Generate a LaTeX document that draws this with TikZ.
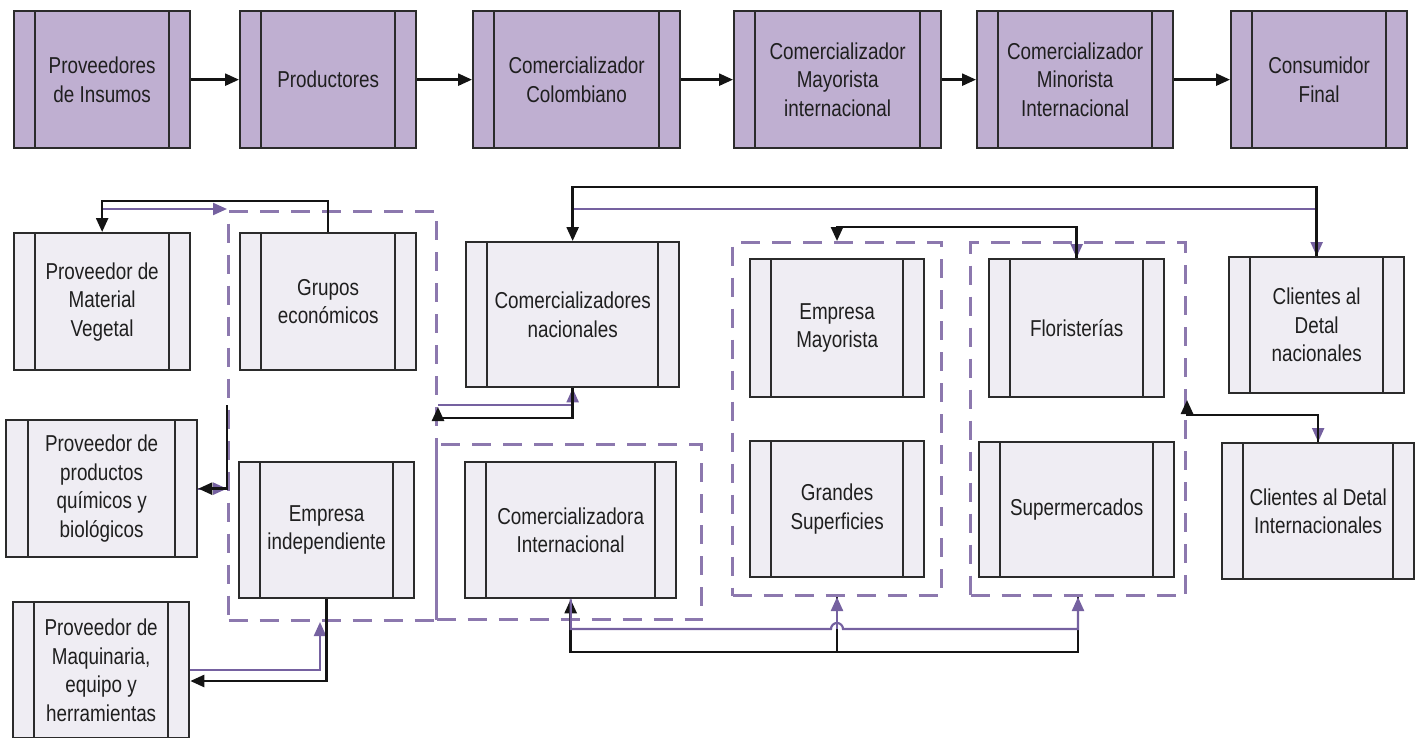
\documentclass[tikz,border=0pt]{standalone}
\usepackage{fontspec}
\setmainfont{Liberation Sans}[FakeStretch=0.82]
\usetikzlibrary{arrows.meta}
\definecolor{topfill}{HTML}{BFAFD1}
\definecolor{lowfill}{HTML}{EFEDF3}
\definecolor{boxline}{HTML}{2B2B2B}
\definecolor{txt}{HTML}{1F1F1F}
\definecolor{purp}{HTML}{7561A0}
\definecolor{dashc}{HTML}{8C78AE}
\begin{document}
\begin{tikzpicture}[x=1pt,y=-1pt,
  base/.style={draw=boxline, line width=2.3pt, inner sep=0pt, align=center,
    text=txt, font=\fontsize{23}{28.5}\selectfont, anchor=north west, strips},
  topbox/.style={base, fill=topfill},
  lowbox/.style={base, fill=lowfill},
  strips/.style={path picture={
    \draw[line width=2.3pt, draw=boxline]
      ([xshift=#1]path picture bounding box.north west) -- ([xshift=#1]path picture bounding box.south west)
      ([xshift=-#1]path picture bounding box.north east) -- ([xshift=-#1]path picture bounding box.south east);}},
  strips/.default=21pt,
  grp/.style={draw=dashc, line width=3pt, dash pattern=on 19pt off 12pt, anchor=north west, inner sep=0pt},
  blk/.style={draw=black!92, line width=2.5pt},
  pur/.style={draw=purp, line width=2.2pt},
  tip/.style={-{Triangle[length=14pt,width=12pt]}}
]
\useasboundingbox (0,0) rectangle (1426,738);

% helper levels for orthogonal routing
\coordinate (h187) at (0,187);
\coordinate (h201) at (0,201);
\coordinate (h209) at (0,209);
\coordinate (h227) at (0,227);
\coordinate (h236) at (0,236);
\coordinate (h400) at (0,400);
\coordinate (h405) at (0,405);
\coordinate (h407) at (0,407);
\coordinate (h415) at (0,415);
\coordinate (h418) at (0,418);
\coordinate (h425) at (0,425);
\coordinate (h629) at (0,629);
\coordinate (h652) at (0,652);
\coordinate (h681) at (0,681);
\coordinate (v320) at (320,0);

% dashed groupings
\node[grp, minimum width=208pt, minimum height=409pt] (gA) at (227,210) {};
\node[grp, minimum width=265pt, minimum height=175pt] (gB) at (435,443) {};
\node[grp, minimum width=209pt, minimum height=353pt] (gC) at (731,241) {};
\node[grp, minimum width=215pt, minimum height=353pt] (gD) at (969,241) {};

% main chain
\node[topbox, minimum width=176pt, minimum height=137pt] (ins) at (13,10) {Proveedores\\de Insumos};
\node[topbox, minimum width=176pt, minimum height=137pt] (prod) at (239,10) {Productores};
\node[topbox, minimum width=207pt, minimum height=137pt] (ccol) at (472,10) {Comercializador\\Colombiano};
\node[topbox, minimum width=207pt, minimum height=137pt] (cmay) at (733,10) {Comercializador\\Mayorista\\internacional};
\node[topbox, minimum width=196pt, minimum height=137pt] (cmin) at (976,10) {Comercializador\\Minorista\\Internacional};
\node[topbox, minimum width=176pt, minimum height=137pt] (cons) at (1230,10) {Consumidor\\Final};

% actors
\node[lowbox, minimum width=176pt, minimum height=137pt] (pmv) at (13,232) {Proveedor de\\Material\\Vegetal};
\node[lowbox, minimum width=176pt, minimum height=137pt] (grup) at (239,232) {Grupos\\económicos};
\node[lowbox, strips=22pt, minimum width=191pt, minimum height=137pt] (pqb) at (5,419) {Proveedor de\\productos\\químicos y\\biológicos};
\node[lowbox, minimum width=175pt, minimum height=136pt] (emind) at (238,461) {Empresa\\independiente};
\node[lowbox, minimum width=176pt, minimum height=136pt] (pmaq) at (12,601) {Proveedor de\\Maquinaria,\\equipo y\\herramientas};
\node[lowbox, minimum width=213pt, minimum height=145pt] (cnac) at (465,241) {Comercializadores\\nacionales};
\node[lowbox, minimum width=211pt, minimum height=136pt] (cint) at (464,461) {Comercializadora\\Internacional};
\node[lowbox, minimum width=174pt, minimum height=138pt] (emay) at (749,258) {Empresa\\Mayorista};
\node[lowbox, minimum width=174pt, minimum height=136pt] (gsup) at (749,440) {Grandes\\Superficies};
\node[lowbox, minimum width=175pt, minimum height=138pt] (flor) at (988,258) {Floristerías};
\node[lowbox, minimum width=195pt, minimum height=135pt] (supm) at (978,441) {Supermercados};
\node[lowbox, minimum width=175pt, minimum height=136pt] (cdn) at (1228,256) {Clientes al\\Detal\\nacionales};
\node[lowbox, minimum width=192pt, minimum height=136pt] (cdi) at (1221,442) {Clientes al Detal\\Internacionales};

% chain arrows
\draw[blk, tip] (ins) -- (prod);
\draw[blk, tip] (prod) -- (ccol);
\draw[blk, tip] (ccol) -- (cmay);
\draw[blk, tip] (cmay) -- (cmin);
\draw[blk, tip] (cmin) -- (cons);

% plant material supplier
\draw[pur, tip] (pmv.north |- h209) -- (gA.west |- h209);
\draw[blk, tip] (grup.north) -- (grup.north |- h201) -- (pmv.north |- h201) -- (pmv.north);

% chemical supplier
\draw[pur, tip] (pqb.east) -- (gA.west |- pqb.east);
\draw[blk, tip] (gA.west |- h405) -- (gA.west |- pqb.east) -- (pqb.east);

% machinery supplier
\draw[pur, tip] (pmaq.east) -- (v320 |- pmaq.east) -- (v320 |- gA.south);
\draw[blk, tip] (emind.south) -- (emind.south |- h681) -- (pmaq.east |- h681);

% national traders
\draw[pur, tip] (gA.east |- h405) -- (cnac.south |- h405) -- (cnac.south);
\draw[blk, tip] (cnac.south) -- (cnac.south |- h418) -- (gA.east |- h418) -- (gA.east |- h407);

% national retail clients
\draw[pur, tip] (cnac.north |- h209) -- (cdn.north |- h209) -- (cdn.north);
\draw[blk, tip] (cdn.north) -- (cdn.north |- h187) -- (cnac.north |- h187) -- (cnac.north);

% florists to wholesalers
\draw[pur, tip] (flor.north |- h236) -- (flor.north);
\draw[blk, tip] (flor.north) -- (flor.north |- h227) -- (gC.north |- h227) -- (gC.north);

% international retail clients
\draw[pur, tip] (cdi.north |- h425) -- (cdi.north);
\draw[blk, tip] (cdi.north) -- (cdi.north |- h415) -- (gD.east |- h415) -- (gD.east |- h400);

% international trader to retail groups
\draw[blk, tip] (gD.south) -- (gD.south |- h652) -- (cint.south |- h652) -- (cint.south);
\draw[blk] (gC.south) -- (gC.south |- h652);
\draw[pur, tip] (cint.south) -- (cint.south |- h629) -- ([xshift=-6pt]gC.south |- h629)
  arc[start angle=180, end angle=360, radius=6] -- (gD.south |- h629) -- (gD.south);
\draw[pur, tip] (gC.south |- h629) -- (gC.south);
\end{tikzpicture}
\end{document}
